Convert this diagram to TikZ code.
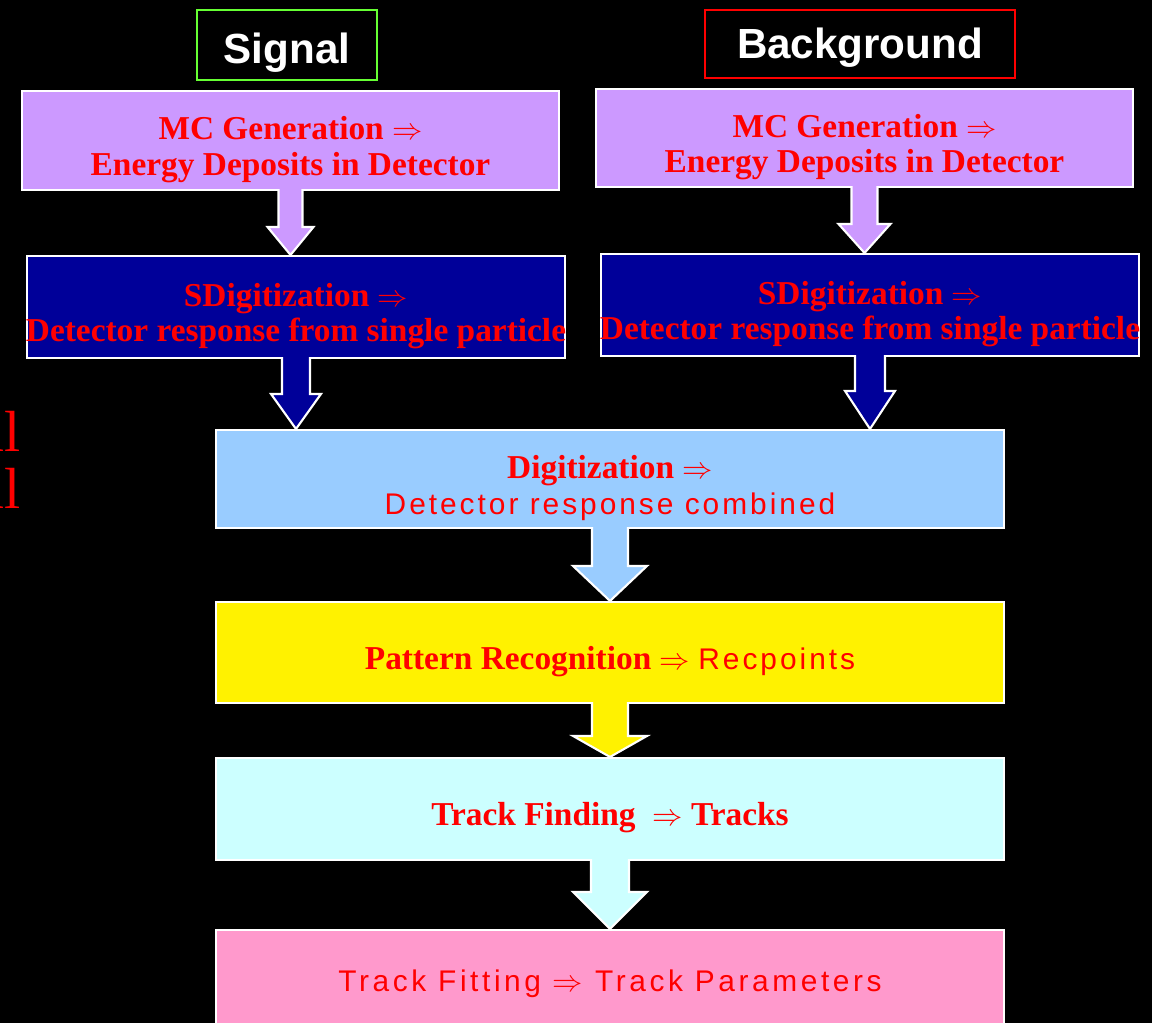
\documentclass[tikz,border=0pt]{standalone}
\usepackage{fontspec}
\setmainfont{Liberation Serif}
\setsansfont{Liberation Sans}
\usetikzlibrary{calc}
\definecolor{lilac}{HTML}{CC99FF}
\definecolor{darkblue}{HTML}{000099}
\definecolor{skyblue}{HTML}{99CCFF}
\definecolor{paleblue}{HTML}{CCFFFF}
\definecolor{pinkish}{HTML}{FF99CC}
\definecolor{signalgreen}{HTML}{66FF33}

\newcommand{\boxfont}{\fontsize{19}{20}\selectfont\bfseries}
\newcommand{\plaintxt}{\fontsize{17}{20}\selectfont\sffamily\mdseries\addfontfeatures{LetterSpace=10}}
% strut that pushes a box text down a little
\newcommand{\lift}[1]{\rule{0pt}{#1}}
% block arrow: from, to, fill, half shaft, half head, head length
\newcommand{\flowarrow}[6]{%
	\filldraw[fill=#3, draw=white, line width=1.2pt, line join=miter]
	($(#1.south)+(-#4,-2)$) -- ($(#1.south |- #2.north)+(-#4,-#6)$)
	-- ($(#1.south |- #2.north)+(-#5,-#6)$) -- (#1.south |- #2.north)
	-- ($(#1.south |- #2.north)+(#5,-#6)$) -- ($(#1.south |- #2.north)+(#4,-#6)$)
	-- ($(#1.south)+(#4,-2)$);
}

\begin{document}
\begin{tikzpicture}[x=0.02cm, y=-0.02cm,
	flowbox/.style={draw=white, line width=1.2pt, align=center, text=red, font=\boxfont, inner sep=0pt},
	headbox/.style={line width=1.6pt, text=white, font=\fontsize{24}{24}\selectfont\sffamily\bfseries}]
\useasboundingbox (0,0) rectangle (1152,1023);
\fill[black] (0,0) rectangle (1152,1023);

% headings
\node[headbox, draw=signalgreen, minimum width=3.6cm, minimum height=1.4cm] (sigHead) at (287,45) {\lift{26pt}Signal};
\node[headbox, draw=red, minimum width=6.2cm, minimum height=1.36cm] (bgHead) at (860,44) {\lift{22pt}Background};

% two input chains
\node[flowbox, fill=lilac, minimum width=10.74cm, minimum height=1.98cm] (mcSig) at (290.5,140.5)
	{\lift{23.5pt}MC Generation $\Rightarrow$\\ Energy Deposits in Detector};
\node[flowbox, fill=lilac, minimum width=10.74cm, minimum height=1.96cm] (mcBg) at (864.5,138)
	{\lift{23.5pt}MC Generation $\Rightarrow$\\ Energy Deposits in Detector};
\node[flowbox, fill=darkblue, minimum width=10.76cm, minimum height=2.04cm] (sdSig) at (296,307)
	{\lift{23.5pt}SDigitization $\Rightarrow$\\ \makebox[0pt]{Detector response from single particle}};
\node[flowbox, fill=darkblue, minimum width=10.76cm, minimum height=2.04cm] (sdBg) at (870,305)
	{\lift{23.5pt}SDigitization $\Rightarrow$\\ \makebox[0pt]{Detector response from single particle}};

% common chain
\node[flowbox, fill=skyblue, minimum width=15.76cm, minimum height=1.96cm] (digi) at (610,479)
	{\lift{23.5pt}Digitization $\Rightarrow$\\ {\plaintxt Detector response combined}};
\node[flowbox, fill=yellow, minimum width=15.76cm, minimum height=2.02cm] (patrec) at (610,652.5)
	{\lift{23.5pt}Pattern Recognition $\Rightarrow$ {\plaintxt Recpoints}};
\node[flowbox, fill=paleblue, minimum width=15.76cm, minimum height=2.04cm] (trkfind) at (610,809)
	{\lift{23.5pt}Track Finding\ \ $\Rightarrow$ Tracks};
\node[flowbox, fill=pinkish, minimum width=15.76cm, minimum height=2cm] (trkfit) at (610,980)
	{\plaintxt\addfontfeatures{LetterSpace=12}\lift{17pt}Track Fitting $\Rightarrow$ Track Parameters};

% cut-off text at the left edge
\node[text=red, font=\fontsize{33}{33}\selectfont, anchor=base east, inner sep=0pt] (cutA) at (21,452) {al};
\node[text=red, font=\fontsize{33}{33}\selectfont, anchor=base east, inner sep=0pt] (cutB) at (21,508) {al};

\flowarrow{mcSig}{sdSig}{lilac}{12}{23}{28}
\flowarrow{mcBg}{sdBg}{lilac}{13}{26}{29}
\flowarrow{sdSig}{digi}{darkblue}{14}{25}{35}
\flowarrow{sdBg}{digi}{darkblue}{15}{25}{38}
\flowarrow{digi}{patrec}{skyblue}{18}{37}{35}
\flowarrow{patrec}{trkfind}{yellow}{18}{37}{21}
\flowarrow{trkfind}{trkfit}{paleblue}{19}{37}{37}
\end{tikzpicture}
\end{document}
